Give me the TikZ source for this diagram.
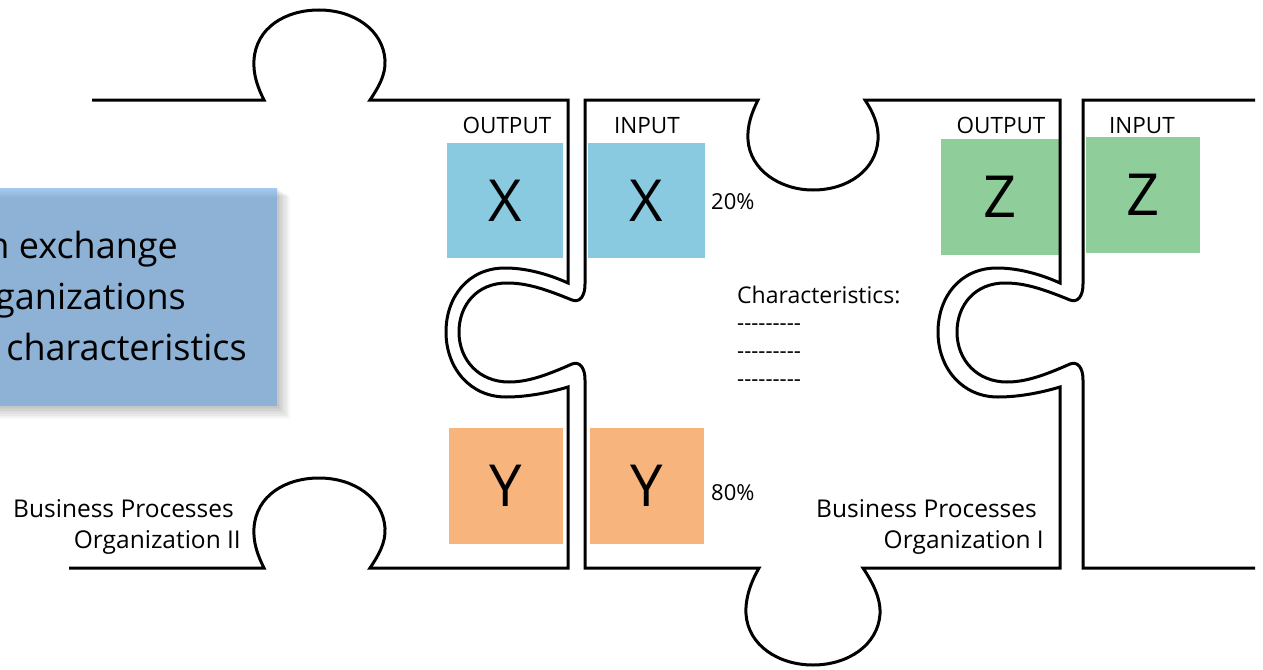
\documentclass[tikz,border=0pt]{standalone}
\usepackage{fontspec}
\setmainfont{Open Sans}
\definecolor{xblue}{RGB}{137,202,224}
\definecolor{xorange}{RGB}{247,181,125}
\definecolor{xgreen}{RGB}{143,206,154}
\definecolor{boxblue}{RGB}{141,178,214}
\definecolor{topblue}{RGB}{162,202,240}
\newcommand{\hy}{\hbox{-}}
\newcommand{\dashrow}{\hy\hy\hy\hy\hy\hy\hy\hy\hy}
\begin{document}
\begin{tikzpicture}[x=1pt,y=-1pt,
  tile/.style={inner sep=0pt, font=\fontsize{58}{60}\selectfont},
  lab/.style={inner sep=0pt, font=\fontsize{22.5}{26}\selectfont},
  pct/.style={inner sep=0pt, font=\fontsize{22}{26}\selectfont},
  note/.style={inner sep=0pt, font=\fontsize{23}{27}\selectfont},
  biz/.style={inner sep=0pt, font=\fontsize{24.5}{28}\selectfont},
  big/.style={inner sep=0pt, font=\fontsize{36}{40}\selectfont},
  puz/.style={draw=black, line width=3pt, line join=miter}]
\useasboundingbox (0,0) rectangle (1263,669);

% ---- callout box with soft shadow ----
\foreach \i in {1,...,8}
  \fill[black, opacity=0.03] (-5,188+\i) rectangle (277+1.6*\i,406+1.6*\i);
\fill[boxblue] (-5,188) rectangle (277,406);
\shade[top color=topblue, bottom color=boxblue] (-5,188) rectangle (277,198);
\node[big, anchor=base east] (c1) at (178,258) {n exchange};
\node[big, anchor=base east] (c2) at (186,309) {ganizations};
\node[big, anchor=base east] (c3) at (247,360) {characteristics};

% ---- coloured tiles ----
\node[tile, fill=xblue, minimum width=116pt, minimum height=115pt] (ox) at (505,200.5) {X};
\node[tile, fill=xblue, minimum width=117pt, minimum height=115pt] (ix) at (646.5,200.5) {X};
\node[tile, fill=xorange, minimum width=114pt, minimum height=116pt] (oy) at (506,486) {Y};
\node[tile, fill=xorange, minimum width=114pt, minimum height=116pt] (iy) at (647,486) {Y};
\node[tile, fill=xgreen, minimum width=118pt, minimum height=116pt] (oz) at (1000,197) {Z};
\node[tile, fill=xgreen, minimum width=114pt, minimum height=116pt] (iz) at (1143,195) {Z};

% ---- labels ----
\node[lab, anchor=base] (lox) at (507,133) {OUTPUT};
\node[lab, anchor=base] (lix) at (647,133) {INPUT};
\node[lab, anchor=base] (loz) at (1001,133) {OUTPUT};
\node[lab, anchor=base] (liz) at (1142,133) {INPUT};
\node[pct, anchor=base west] (p20) at (711,209) {20\%};
\node[pct, anchor=base west] (p80) at (711,500) {80\%};
\node[note, anchor=base west] (ch) at (737,303) {Characteristics:};
\node[pct, anchor=base west] (d1) at (737,330) {\dashrow};
\node[pct, anchor=base west] (d2) at (737,358) {\dashrow};
\node[pct, anchor=base west] (d3) at (737,386) {\dashrow};
\node[biz, anchor=base east] (b2a) at (234,517) {Business Processes};
\node[biz, anchor=base east] (b2b) at (241,548) {Organization II};
\node[biz, anchor=base east] (b1a) at (1037,517) {Business Processes};
\node[biz, anchor=base east] (b1b) at (1044,548) {Organization I};

% ---- left piece (Organization II) ----
\draw[puz] (92,100) -- (264,100)
  .. controls (258,88) and (253,75) .. (254,60)
  .. controls (256,28) and (285,10) .. (319,10)
  .. controls (354,10) and (383,30) .. (385,60)
  .. controls (386,75) and (378,88) .. (370,100)
  -- (568,100) -- (568,283)
  .. controls (548,274) and (526,268) .. (505,268)
  .. controls (468,268) and (446,297) .. (446,332)
  .. controls (446,368) and (470,397) .. (506,397)
  .. controls (526,397) and (548,393) .. (568,387)
  -- (568,568) -- (370,568)
  .. controls (378,556) and (386,543) .. (385,528)
  .. controls (383,498) and (354,478) .. (319,478)
  .. controls (285,478) and (256,496) .. (254,528)
  .. controls (253,543) and (258,556) .. (264,568)
  -- (69,568);

% ---- middle piece (Organization I) ----
\draw[puz] (585,100) -- (758,100)
  .. controls (752,112) and (747,125) .. (748,140)
  .. controls (750,170) and (780,190) .. (813,190)
  .. controls (848,190) and (876,170) .. (878,140)
  .. controls (879,125) and (873,112) .. (865,100)
  -- (1060,100) -- (1060,283)
  .. controls (1040,274) and (1018,268) .. (997,268)
  .. controls (960,268) and (938,297) .. (938,332)
  .. controls (938,368) and (962,397) .. (998,397)
  .. controls (1018,397) and (1040,393) .. (1060,387)
  -- (1060,568) -- (863,568)
  .. controls (871,580) and (881,597) .. (880,614)
  .. controls (878,645) and (848,665) .. (813,665)
  .. controls (778,665) and (748,645) .. (746,614)
  .. controls (745,597) and (752,580) .. (759,568)
  -- (585,568) -- (585,380)
  .. controls (585,368) and (580,361) .. (572,364)
  .. controls (545,376) and (527,382) .. (509,382)
  .. controls (479,382) and (459,360) .. (459,332)
  .. controls (459,305) and (477,283) .. (507,283)
  .. controls (527,283) and (545,289) .. (572,300)
  .. controls (580,303) and (585,296) .. (585,284)
  -- cycle;

% ---- right piece ----
\draw[puz] (1255,100) -- (1083,100) -- (1083,284)
  .. controls (1083,296) and (1078,303) .. (1070,300)
  .. controls (1043,289) and (1025,283) .. (1005,283)
  .. controls (975,283) and (957,305) .. (957,332)
  .. controls (957,360) and (977,382) .. (1007,382)
  .. controls (1025,382) and (1043,376) .. (1070,364)
  .. controls (1078,361) and (1083,368) .. (1083,380)
  -- (1083,568) -- (1255,568);
\end{tikzpicture}
\end{document}
